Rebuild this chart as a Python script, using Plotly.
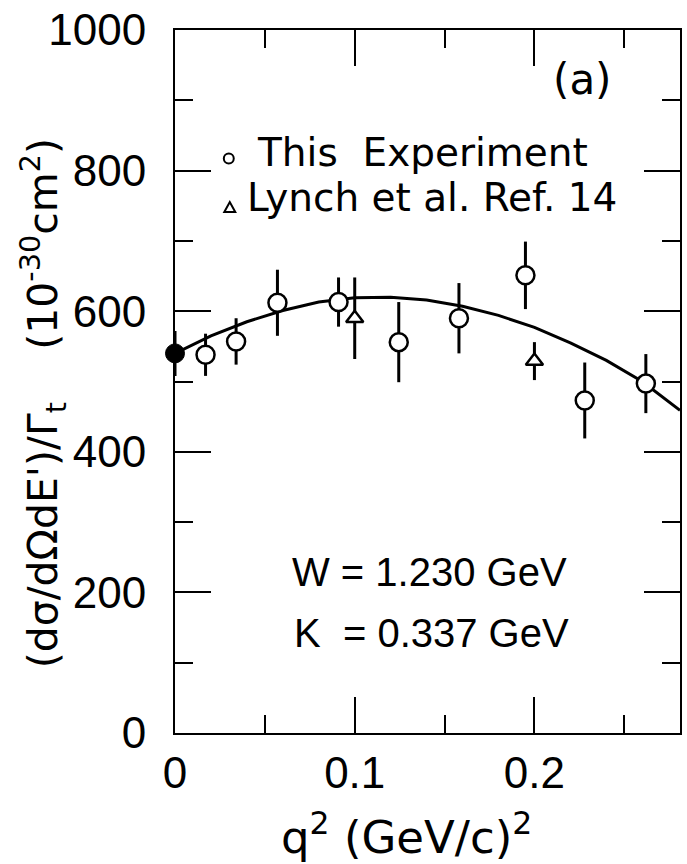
import plotly.graph_objects as go

# ---------------- data ----------------
q_exp = [0.017, 0.034, 0.057, 0.091, 0.1245, 0.158, 0.195, 0.228, 0.262]
v_exp = [538, 557, 612, 613, 556, 590, 651, 473, 497]
e_exp = [30, 33, 47, 35, 57, 50, 48, 54, 42]

q_photo = [0.0]
v_photo = [540]
e_photo = [32]

q_lynch = [0.1, 0.2]
v_lynch = [590, 529]
e_lynch = [58, 27]

q_curve = [0.0, 0.02, 0.04, 0.06, 0.08, 0.10, 0.12, 0.14, 0.16, 0.18, 0.20, 0.22, 0.24, 0.26, 0.281]
v_curve = [540, 565, 585, 601, 613, 619, 620, 616, 607, 594, 577, 555, 530, 500, 459]

x_tickvals = [0, 0.1, 0.2]
x_ticktext = ["0", "0.1", "0.2"]
y_tickvals = [0, 200, 400, 600, 800, 1000]
y_ticktext = ["0", "200", "400", "600", "800", "1000"]

# ---------------- layout geometry ----------------
W_PX, H_PX = 687, 864
L, R, T, B = 175, 682, 22, 733


def px(xp):
    return (xp - L) / (R - L)


def py(yp):
    return (B - yp) / (B - T)


fig = go.Figure()

fig.add_trace(go.Scatter(x=q_curve, y=v_curve, mode="lines",
                         line=dict(color="black", width=3), showlegend=False,
                         hoverinfo="skip"))

fig.add_trace(go.Scatter(
    x=q_exp, y=v_exp, mode="markers", name="This Experiment",
    marker=dict(symbol="circle", size=18, color="white",
                line=dict(color="black", width=2.5)),
    error_y=dict(type="data", array=e_exp, color="black", thickness=3, width=0),
    showlegend=False))

fig.add_trace(go.Scatter(
    x=q_photo, y=v_photo, mode="markers", name="photoproduction",
    marker=dict(symbol="circle", size=19, color="black",
                line=dict(color="black", width=1)),
    error_y=dict(type="data", array=e_photo, color="black", thickness=3, width=0),
    showlegend=False, cliponaxis=False))

fig.add_trace(go.Scatter(
    x=q_lynch, y=v_lynch, mode="markers", name="Lynch et al. Ref. 14",
    marker=dict(symbol="triangle-up", size=15, color="white",
                line=dict(color="black", width=2.5)),
    error_y=dict(type="data", array=e_lynch, color="black", thickness=3, width=0),
    showlegend=False))

tickfont = dict(family="Liberation Sans, Arial, sans-serif", size=44, color="black")

fig.update_xaxes(range=[0, 0.281], showline=True, linecolor="black", linewidth=2,
                 mirror="ticks", ticks="inside", ticklen=36, tickwidth=2,
                 tickcolor="black", tickvals=x_tickvals, ticktext=x_ticktext,
                 tickfont=tickfont, showgrid=False, zeroline=False,
                 ticklabelstandoff=0, ticklabeloverflow="allow",
                 minor=dict(dtick=0.05, tick0=0, ticks="inside", ticklen=18,
                            tickwidth=2, tickcolor="black", showgrid=False))
fig.update_yaxes(range=[0, 1000], showline=True, linecolor="black", linewidth=2,
                 mirror="ticks", ticks="inside", ticklen=36, tickwidth=2,
                 tickcolor="black", tickvals=y_tickvals, ticktext=y_ticktext,
                 tickfont=tickfont, showgrid=False, zeroline=False,
                 ticklabelstandoff=18, ticklabeloverflow="allow",
                 minor=dict(dtick=100, tick0=0, ticks="inside", ticklen=18,
                            tickwidth=2, tickcolor="black", showgrid=False))

dv = "DejaVu Sans, sans-serif"
lib = "Liberation Sans, Arial, sans-serif"
nb = "\u00a0"

annotations = [
    dict(text="(a)", x=px(584), y=py(72), xanchor="center", yanchor="middle",
         font=dict(family=dv, size=42, color="black")),
    dict(text="This" + nb + nb + "Experiment", x=px(255), y=py(146), xanchor="left",
         yanchor="middle", font=dict(family=dv, size=39, color="black")),
    dict(text="Lynch et al. Ref. 14", x=px(245), y=py(191), xanchor="left",
         yanchor="middle", font=dict(family=dv, size=39, color="black")),
    dict(text="W = 1.230 GeV", x=px(290), y=py(570), xanchor="left",
         yanchor="middle", font=dict(family=lib, size=40, color="black")),
    dict(text="K" + nb + " = 0.337 GeV", x=px(292), y=py(632), xanchor="left",
         yanchor="middle", font=dict(family=lib, size=40, color="black")),
    dict(text="q<sup>2</sup> (GeV/c)<sup>2</sup>", x=px(407), y=py(836),
         xanchor="center", yanchor="middle",
         font=dict(family=dv, size=45, color="black")),
    dict(text="(d\u03c3/d\u03a9dE')/\u0393<sub>t</sub>" + nb * 4 +
              "(10<sup>-30</sup>cm<sup>2</sup>)",
         x=px(42), y=py(400), xanchor="center", yanchor="middle", textangle=-90,
         font=dict(family=dv, size=41, color="black")),
]
for a in annotations:
    a.update(xref="paper", yref="paper", showarrow=False)

shapes = [
    dict(type="circle", xref="paper", yref="paper",
         x0=px(224), x1=px(234), y0=py(157), y1=py(147),
         line=dict(color="black", width=2)),
    dict(type="path", xref="paper", yref="paper",
         path=f"M {px(224.5)} {py(206)} L {px(235.5)} {py(206)} L {px(230)} {py(196)} Z",
         line=dict(color="black", width=2)),
]

fig.update_layout(width=W_PX, height=H_PX, autosize=False,
                  margin=dict(l=L, r=W_PX - R, t=T, b=H_PX - B, pad=0),
                  paper_bgcolor="white", plot_bgcolor="white",
                  annotations=annotations, shapes=shapes, showlegend=False)

fig.write_html("out.html", config={"displayModeBar": False},
               post_script="document.body.style.margin='0';"
                           "document.body.style.overflow='hidden';")
